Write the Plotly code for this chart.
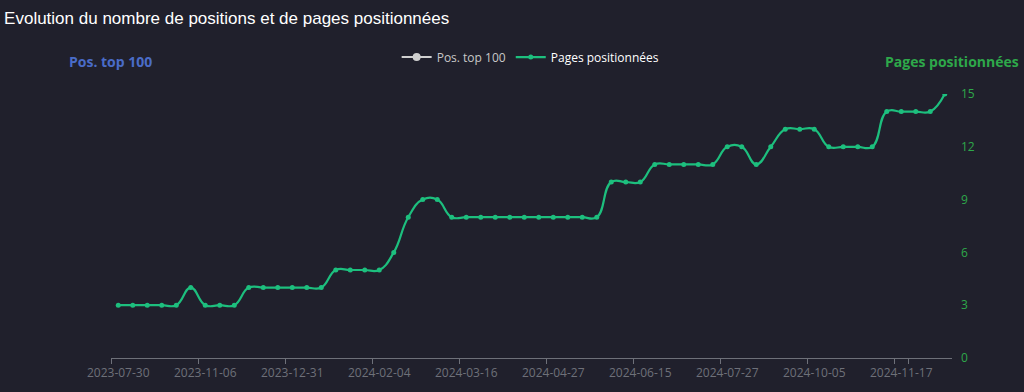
import plotly.graph_objects as go

dates = [
    "2023-07-30", "2023-08-13", "2023-08-27", "2023-09-10", "2023-09-24", "2023-10-15",
    "2023-11-06", "2023-11-13", "2023-11-20", "2023-11-27", "2023-12-10", "2023-12-17",
    "2023-12-31", "2024-01-07", "2024-01-14", "2024-01-21", "2024-01-24", "2024-01-28",
    "2024-02-04", "2024-02-11", "2024-02-18", "2024-02-25", "2024-03-03", "2024-03-10",
    "2024-03-16", "2024-03-23", "2024-03-30", "2024-04-06", "2024-04-13", "2024-04-20",
    "2024-04-27", "2024-05-04", "2024-05-11", "2024-05-18", "2024-05-25", "2024-06-01",
    "2024-06-15", "2024-06-22", "2024-06-29", "2024-07-06", "2024-07-13", "2024-07-20",
    "2024-07-27", "2024-08-10", "2024-08-24", "2024-09-07", "2024-09-14", "2024-09-21",
    "2024-10-05", "2024-10-12", "2024-10-19", "2024-10-26", "2024-11-02", "2024-11-10",
    "2024-11-17", "2024-11-24", "2024-12-01", "2024-12-08",
]

pages_positionnees = [
    3, 3, 3, 3, 3, 4, 3, 3, 3,
    4, 4, 4, 4, 4, 4,
    5, 5, 5, 5, 6, 8, 9, 9,
    8, 8, 8, 8, 8, 8, 8, 8, 8, 8, 8,
    10, 10, 10,
    11, 11, 11, 11, 11,
    12, 12, 11, 12, 13, 13, 13,
    12, 12, 12, 12,
    14, 14, 14, 14, 15,
]

pos_top_100 = [None] * len(dates)

tick_labels = [dates[i] for i in range(0, len(dates), 6)]
y_ticks = [0, 3, 6, 9, 12, 15]

BG = "#20202c"
GREEN_LINE = "#1dbf7e"
GREEN_TXT = "#2ea84a"
BLUE_TXT = "#4a6cc8"
AXIS_GREY = "#6e7079"
FONT = "Open Sans"

fig = go.Figure()

fig.add_trace(go.Scatter(
    x=dates, y=pos_top_100, name="<span style='color:#c8c8c8'>Pos. top 100</span>",
    mode="lines+markers", yaxis="y",
    line=dict(color="#d0d0d0", width=2), marker=dict(size=8, color="#d0d0d0"),
    connectgaps=False,
))
fig.add_trace(go.Scatter(
    x=dates, y=pages_positionnees, name="Pages positionnées",
    mode="lines+markers", yaxis="y2",
    line=dict(color=GREEN_LINE, width=2.2, shape="spline", smoothing=1.3),
    marker=dict(size=5, color=GREEN_LINE),
))

fig.update_layout(
    width=1024, height=392,
    paper_bgcolor=BG, plot_bgcolor=BG,
    margin=dict(l=111, r=72, t=94, b=34, autoexpand=False),
    font=dict(family=FONT, color="#ffffff"),
    title=dict(text="Evolution du nombre de positions et de pages positionnées",
               x=0.004, xanchor="left", y=0.955, yanchor="middle",
               font=dict(family="Liberation Sans, Arial", size=17, color="#ffffff")),
    showlegend=True,
    legend=dict(orientation="h", x=0.499, xanchor="center", y=1.14, yanchor="middle",
                font=dict(size=12, color="#ffffff", family=FONT),
                bgcolor="rgba(0,0,0,0)"),
    xaxis=dict(
        type="category", categoryorder="array", categoryarray=dates,
        range=[-0.5, len(dates) - 0.5],
        tickmode="array", tickvals=tick_labels, ticktext=tick_labels,
        tickson="boundaries", ticks="outside", ticklen=5, tickcolor=AXIS_GREY,
        tickangle=0, automargin=False, ticklabelstandoff=4,
        showline=True, linecolor=AXIS_GREY, linewidth=1,
        showgrid=False, zeroline=False,
        tickfont=dict(size=12, color=AXIS_GREY, family=FONT),
    ),
    yaxis=dict(
        side="left", range=[0, 15], showticklabels=False, showgrid=False,
        zeroline=False, showline=False, ticks="", automargin=False,
    ),
    yaxis2=dict(
        side="right", overlaying="y", range=[0, 15],
        tickmode="array", tickvals=y_ticks, automargin=False,
        showgrid=False, zeroline=False, showline=False, ticks="",
        tickfont=dict(size=12, color=GREEN_TXT, family=FONT),
        ticklabelstandoff=8,
    ),
    annotations=[
        dict(text="<b>Pos. top 100</b>", xref="paper", yref="paper",
             x=(110 - 111) / 841, y=(358 - 61) / 264, xanchor="center", yanchor="middle",
             showarrow=False, font=dict(size=14, color=BLUE_TXT, family=FONT)),
        dict(text="<b>Pages positionnées</b>", xref="paper", yref="paper",
             x=(952 - 111) / 841, y=(358 - 61) / 264, xanchor="center", yanchor="middle",
             showarrow=False, font=dict(size=14, color=GREEN_TXT, family=FONT)),
    ],
)

fig.write_html(
    "out.html",
    config={"displayModeBar": False},
    post_script="document.body.style.margin='0';document.body.style.background='#20202c';",
)
